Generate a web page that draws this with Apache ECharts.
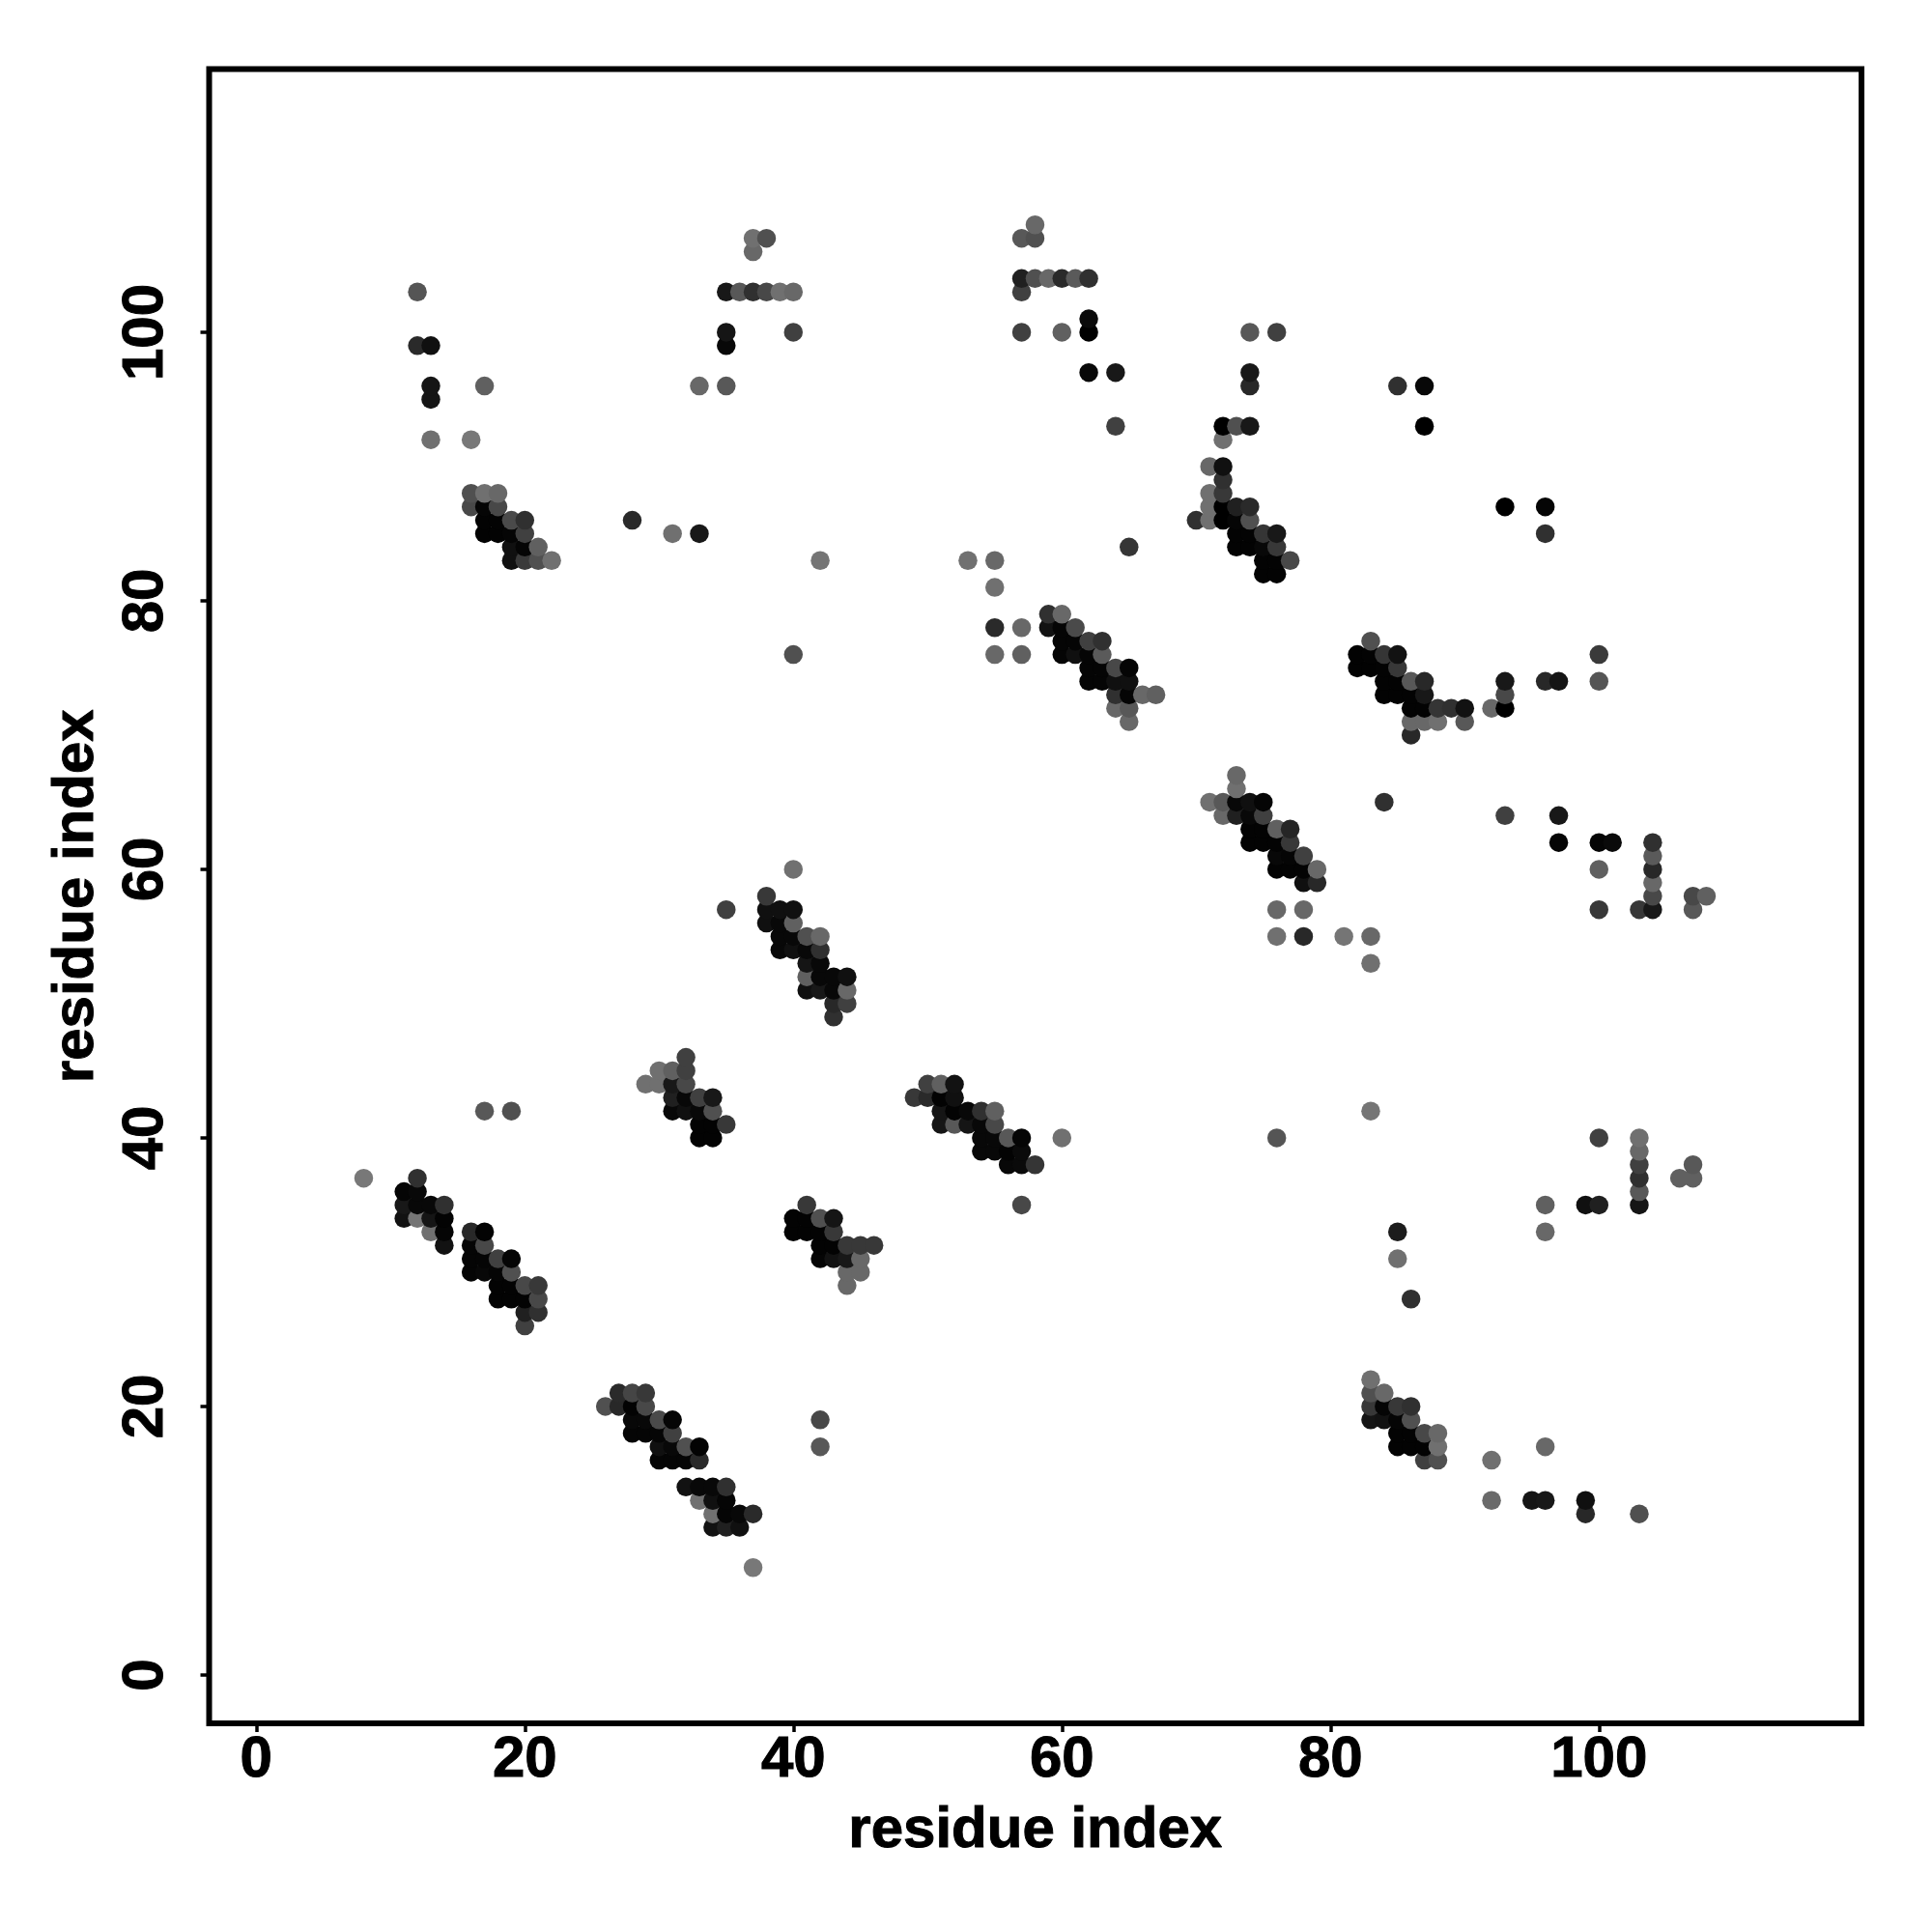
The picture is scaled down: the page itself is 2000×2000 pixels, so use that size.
<!DOCTYPE html>
<html>
<head>
<meta charset="utf-8">
<style>html,body{margin:0;padding:0;background:#fff}#c{width:2000px;height:2000px}</style>
<script src="https://cdn.jsdelivr.net/npm/echarts@6/dist/echarts.min.js"></script>
</head>
<body>
<div id="c"></div>
<script>
const tickLabels = [0, 20, 40, 60, 80, 100];
const axisName = 'residue index';
const rowY = [108,107,106,104,103,101,100,99,97,96,95,93,92,90,89,88,87,86,85,84,83,82,81,79,78,77,76,75,74,73,72,71,70,67,66,65,64,63,62,61,60,59,58,57,56,55,54,53,52,51,50,49,46,45,44,43,42,41,40,39,38,37,36,35,34,33,32,31,30,29,28,27,26,22,21,20,19,18,17,16,14,13,12,11,8];
const rowX = [
[58],[37,38,57,58],[37],[57,58,59,60,61,62],[12,35,36,37,38,39,40,57],[62],[35,40,57,60,62,74,76],[12,13,35],[62,64,74],
[13,17,33,35,74,85,87],[13],[64,72,73,74,87],[13,16,72],[71,72],[72],[16,17,18,71,72],[16,17,18,71,72,73,74,93,96],
[17,18,19,20,28,70,71,72,73,74],[17,18,19,20,31,33,73,74,75,76,96],[19,20,21,65,73,74,75,76],[19,20,21,22,42,53,55,75,76,77],
[75,76],[55],[59,60],[55,57,59,60,61],[60,61,62,63,83],[40,55,57,60,61,62,63,82,83,84,85,100],[62,63,64,65,82,83,84,85],
[62,63,64,65,84,85,86,87,93,96,97,100],[64,65,66,67,84,85,86,87,93],[64,65,86,87,88,89,90,92,93],[65,86,87,88,90],[86],
[73],[73],[71,72,73,74,75,84],[72,73,74,75,93,97],[74,75,76,77],[74,75,76,77,97,100,101,104],[76,77,78,104],
[40,76,77,78,79,100,104],[78,79,104],[38,104,107,108],[35,38,39,40,76,78,100,103,104,107],[38,39,40],[39,40,41,42,76,78,81,83],
[39,40,41,42],[41,42,83],[41,42,43,44],[41,42,43,44],[43,44],[43],[32],[30,31,32],[29,30,31,32,50,51,52],[31,32,33,34,49,50,51,52],
[17,19,31,32,33,34,51,52,53,54,55,83],[33,34,35,51,52,53,54,55],[33,34,54,55,56,57,60,76,100,103],[54,55,56,57,103],[56,57,58,103,107],
[8,12,103,106,107],[11,12,103],[11,12,13,14,41,57,96,99,100,103],[11,12,13,14,40,41,42,43],[13,14,16,17,40,41,42,43,85,96],
[14,16,17,42,43,44,45,46],[16,17,18,19,42,43,44,45,85],[16,17,18,19,44,45],[18,19,20,21,44],[18,19,20,21,86],[20,21],[20],[83],
[27,28,29,83,84],[26,27,28,29,83,84,85,86],[28,29,30,31,42,83,84,85,86],[28,29,30,31,85,86,87,88],[30,31,32,33,42,85,86,87,88,96],
[30,31,32,33,87,88,92],[32,33,34,35],[33,34,35,92,95,96,99],[34,35,36,37,99,103],[34,35,36],[37]
];
const rowShade = [
[0x68],[0x70,0x50,0x58,0x50],[0x68],[0x20,0x50,0x68,0x2a,0x5a,0x30],[0x55,0x18,0x58,0x30,0x48,0x70,0x68,0x40],[0x0a],[0x15,0x40,0x40,0x60,0x00,0x58,0x40],[0x2a,0x10,0x08],[0x08,0x18,0x18],
[0x15,0x60,0x68,0x58,0x28,0x30,0x08],[0x15],[0x40,0x00,0x50,0x18,0x00],[0x70,0x78,0x70],[0x68,0x10],[0x30],[0x50,0x70,0x68,0x70,0x38],[0x48,0x05,0x48,0x70,0x00,0x20,0x2a,0x00,0x05],
[0x03,0x03,0x4a,0x30,0x2a,0x30,0x70,0x00,0x05,0x50],[0x03,0x03,0x05,0x40,0x70,0x18,0x03,0x03,0x35,0x18,0x30],[0x10,0x05,0x60,0x35,0x03,0x03,0x08,0x38],[0x10,0x3a,0x50,0x70,0x75,0x70,0x68,0x03,0x03,0x48],
[0x03,0x03],[0x70],[0x30,0x68],[0x2a,0x68,0x12,0x05,0x4a],[0x05,0x05,0x40,0x30,0x50],[0x50,0x68,0x60,0x05,0x10,0x05,0x5a,0x02,0x03,0x35,0x12,0x3a],[0x05,0x05,0x48,0x05,0x02,0x02,0x03,0x38],
[0x05,0x05,0x10,0x10,0x03,0x03,0x58,0x28,0x18,0x28,0x15,0x55],[0x30,0x05,0x68,0x60,0x03,0x03,0x03,0x18,0x48],[0x68,0x58,0x03,0x03,0x35,0x30,0x12,0x68,0x00],[0x68,0x68,0x68,0x70,0x58],[0x28],
[0x68],[0x70],[0x70,0x58,0x08,0x10,0x05,0x30],[0x68,0x20,0x08,0x40,0x40,0x18],[0x03,0x03,0x60,0x25],[0x03,0x03,0x03,0x38,0x05,0x05,0x0a,0x30],[0x08,0x05,0x40,0x5a],
[0x70,0x03,0x03,0x03,0x68,0x60,0x28],[0x10,0x28,0x68],[0x38,0x48,0x48,0x60],[0x40,0x10,0x10,0x10,0x68,0x68,0x38,0x38,0x18,0x58],[0x10,0x08,0x60],[0x08,0x08,0x50,0x68,0x70,0x28,0x75,0x68],
[0x08,0x10,0x08,0x30],[0x15,0x08,0x70],[0x60,0x08,0x08,0x10],[0x10,0x18,0x08,0x68],[0x28,0x40],[0x30],[0x40],[0x70,0x60,0x40],[0x70,0x70,0x18,0x48,0x40,0x60,0x12],[0x20,0x08,0x40,0x18,0x38,0x2a,0x03,0x10],
[0x58,0x50,0x08,0x10,0x08,0x50,0x15,0x03,0x08,0x30,0x60,0x75],[0x03,0x03,0x38,0x15,0x58,0x15,0x08,0x48],[0x03,0x03,0x08,0x08,0x58,0x05,0x70,0x55,0x40,0x70],[0x08,0x08,0x03,0x0a,0x68],[0x08,0x0a,0x35,0x40,0x58],
[0x78,0x30,0x30,0x60,0x60],[0x05,0x08,0x58],[0x18,0x08,0x08,0x30,0x38,0x48,0x60,0x10,0x20,0x15],[0x12,0x75,0x15,0x03,0x03,0x03,0x50,0x15],[0x70,0x05,0x28,0x03,0x03,0x03,0x03,0x38,0x1c,0x68],
[0x12,0x05,0x48,0x03,0x03,0x38,0x38,0x38],[0x05,0x05,0x40,0x05,0x05,0x12,0x18,0x68,0x70],[0x05,0x08,0x05,0x50,0x68,0x68],[0x03,0x03,0x48,0x38,0x68],[0x03,0x03,0x03,0x48,0x30],[0x20,0x30],[0x40],[0x70],
[0x2a,0x45,0x38,0x50,0x68],[0x50,0x28,0x03,0x48,0x38,0x05,0x38,0x30],[0x08,0x08,0x4a,0x05,0x48,0x15,0x12,0x05,0x50],[0x05,0x05,0x05,0x40,0x03,0x03,0x48,0x68],[0x10,0x08,0x50,0x03,0x58,0x03,0x03,0x03,0x70,0x68],
[0x05,0x05,0x05,0x2a,0x40,0x50,0x70],[0x12,0x08,0x08,0x30],[0x70,0x10,0x05,0x6a,0x15,0x18,0x10],[0x70,0x05,0x08,0x2a,0x28,0x50],[0x12,0x20,0x10],[0x78]
];

const points = [];
rowY.forEach((y, r) => rowX[r].forEach((x, i) => points.push([x, y, rowShade[r][i]])));
points.sort((a, b) => a[0] - b[0] || a[1] - b[1]);

const font = '"Liberation Sans", Arial, sans-serif';
const labelStyle = { fontFamily: font, fontWeight: 'bold', fontSize: 60, color: '#000', textBorderColor: '#000', textBorderWidth: 1 };
const commonAxis = {
  type: 'value',
  name: axisName,
  nameLocation: 'middle',
  nameTextStyle: { fontFamily: font, fontWeight: 'bold', fontSize: 60, color: '#000', textBorderColor: '#000', textBorderWidth: 1 },
  splitLine: { show: false },
  axisLine: { show: false, onZero: false },
  axisTick: { show: true, inside: false, length: 9, customValues: tickLabels, lineStyle: { color: '#000', width: 3.5 } }
};
const chart = echarts.init(document.getElementById('c'), null, { renderer: 'canvas', width: 2000, height: 2000 });
chart.setOption({
  animation: false,
  backgroundColor: '#fff',
  grid: { show: true, left: 216.5, top: 71.5, width: 1710.5, height: 1712.5, containLabel: false, borderColor: '#000', borderWidth: 6, backgroundColor: 'transparent' },
  xAxis: Object.assign({}, commonAxis, {
    min: -3.51, max: 119.55, nameGap: 81,
    axisLabel: Object.assign({ customValues: tickLabels, margin: 8 }, labelStyle)
  }),
  yAxis: Object.assign({}, commonAxis, {
    min: -3.6, max: 119.6, nameGap: 107,
    axisLabel: Object.assign({ customValues: tickLabels, rotate: 90, margin: 35 }, labelStyle)
  }),
  series: [{
    type: 'scatter',
    symbol: 'circle',
    symbolSize: 19.5,
    silent: true,
    data: points,
    itemStyle: { opacity: 1, color: p => { const g = p.value[2]; return `rgb(${g},${g},${g})`; } }
  }]
});
</script>
</body>
</html>
